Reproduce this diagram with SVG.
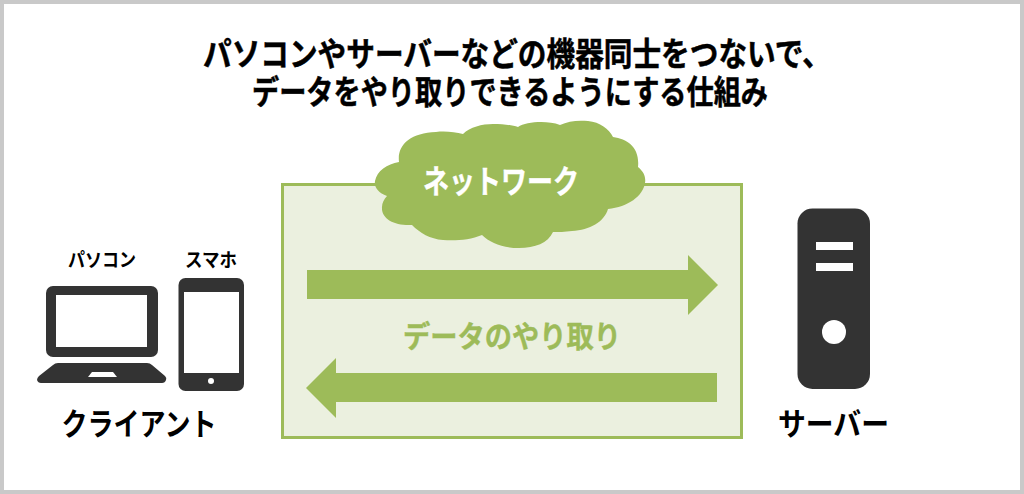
<svg xmlns="http://www.w3.org/2000/svg" width="1024" height="494" viewBox="0 0 1024 494">
<style>
text{font-family:"Noto Sans CJK JP","Noto Sans CJK SC",sans-serif;font-weight:700;text-anchor:middle}
.k{fill:#000}
.h{stroke:#000;stroke-width:.5}
.d{fill:#333}
.g{fill:#9dbb59}
</style>
<rect x="2" y="2" width="1020" height="490" fill="#fff" stroke="#c9c9c9" stroke-width="4"/>
<g id="title">
<text class="k h" x="517" y="66" font-size="33" textLength="628" lengthAdjust="spacingAndGlyphs">パソコンやサーバーなどの機器同士をつないで、</text>
<text class="k h" x="510" y="104" font-size="33" textLength="516" lengthAdjust="spacingAndGlyphs">データをやり取りできるようにする仕組み</text>
</g>
<g id="network">
<rect x="282.500" y="184.500" width="459" height="253" fill="#ebf0df" stroke="#9dbb59" stroke-width="3"/>
<path class="g" d="M399 162C397 145 410 133 436 132C445 131 455 132 463 134C470 127 482 124 493 124C503 124 512 125 518 127C526 122 546 120 560 125C568 121 578 120 588 121C600 122 609 129 613 137C628 139 640 148 638 167C644 172 646 177 645 183C643 196 628 207 608 209C604 222 590 230 572 231C565 232 558 232 553 232C548 243 535 248 519 248C503 248 490 243 482 235C470 240 455 241 443 240C430 239 420 233 412 225C395 226 381 219 382 207C382 203 384 199 387 196C378 193 374 187 375 181C377 171 387 164 399 162Z"/>
<text x="501" y="193" font-size="32" fill="#fff" stroke="#fff" stroke-width=".4" textLength="156" lengthAdjust="spacingAndGlyphs">ネットワーク</text>
</g>
<g id="connectors">
<path class="g" d="M307 270H688V255L718 285L688 315V299H307Z"/>
<path class="g" d="M717 373H336V358L306 388L336 418V402H717Z"/>
</g>
<text class="g" x="512" y="347" font-size="30" stroke="#9dbb59" stroke-width=".4" textLength="218" lengthAdjust="spacingAndGlyphs">データのやり取り</text>
<g id="pc">
<text class="k" x="102" y="267" font-size="19" textLength="68" lengthAdjust="spacingAndGlyphs">パソコン</text>
<rect class="d" x="46" y="286" width="112" height="71" rx="7"/>
<rect x="56" y="295" width="91" height="52" fill="#fff"/>
<path class="d" d="M58 363H147Q150 363 152 365L165 376Q167 378 166 380Q165 383 162 383H41Q38 383 37 380Q37 378 39 376L53 365Q55 363 58 363Z"/>
<path d="M88 377L92 372H113L117 377Z" fill="#fff"/>
</g>
<g id="phone">
<text class="k" x="211" y="267" font-size="19" textLength="52" lengthAdjust="spacingAndGlyphs">スマホ</text>
<rect class="d" x="178.500" y="278" width="65.500" height="113" rx="7"/>
<rect x="184" y="292" width="55" height="81" fill="#fff"/>
<circle cx="211" cy="381" r="3" fill="#fff"/>
</g>
<text class="k" x="139" y="435" font-size="31" textLength="155" lengthAdjust="spacingAndGlyphs">クライアント</text>
<g id="server">
<rect class="d" x="797.500" y="208.500" width="72.500" height="180.500" rx="15"/>
<rect x="816" y="242" width="37" height="8" fill="#fff"/>
<rect x="816" y="263" width="37" height="8" fill="#fff"/>
<circle cx="834" cy="332" r="12" fill="#fff"/>
<text class="k" x="833.500" y="435" font-size="31" textLength="111" lengthAdjust="spacingAndGlyphs">サーバー</text>
</g>
</svg>
